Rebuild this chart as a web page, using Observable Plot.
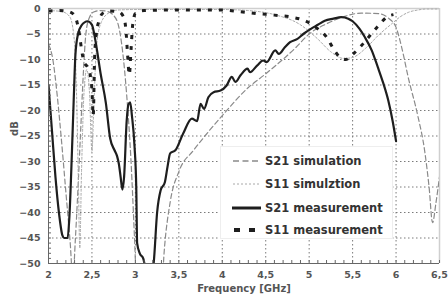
<!DOCTYPE html>
<html>
<head>
<meta charset="utf-8">
<script src="https://cdn.jsdelivr.net/npm/d3@7"></script>
<script src="https://cdn.jsdelivr.net/npm/@observablehq/plot@0.6"></script>
<style>
  html, body { margin: 0; padding: 0; background: #fff; }
  #wrap { position: relative; width: 448px; height: 300px; font-family: "DejaVu Sans", sans-serif; }
  #legend { position: absolute; left: 220px; top: 146px; width: 173px; height: 93px; background: #fff; border: 1px solid #eee; box-sizing: border-box; }
  .row { position: absolute; left: 0; height: 16px; display: flex; align-items: center; }
  .row svg { margin-left: 11px; margin-right: 3px; }
  .row span { font-weight: bold; font-size: 11.5px; color: #333; white-space: nowrap; }
</style>
</head>
<body>
<div id="wrap"></div>
<script>
// ---- data ----
const freqTicks = [2, 2.5, 3, 3.5, 4, 4.5, 5, 5.5, 6, 6.5];
const dbTicks = [0, -5, -10, -15, -20, -25, -30, -35, -40, -45, -50];
const seriesNames = ["S21 simulation", "S11 simulztion", "S21 measurement", "S11 measurement"];

const s21SimF  = [2.0, 2.05, 2.1, 2.15, 2.2, 2.25, 2.28, 2.31, 2.34, 2.37, 2.40, 2.43, 2.47, 2.52, 2.6, 2.68, 2.74, 2.8, 2.85, 2.9, 2.95, 2.99, 3.02, 3.3, 3.33, 3.4, 3.5, 3.67, 3.8, 4.0, 4.3, 4.5, 4.85, 5.0, 5.2, 5.4, 5.6, 5.8, 5.92, 6.0, 6.07, 6.14, 6.25, 6.33, 6.38, 6.42, 6.46, 6.5];
const s21SimDb = [-7, -10, -17, -26, -36, -46, -53, -45, -35, -24, -13, -5, -1.8, -0.7, -0.4, -0.6, -1.2, -3, -8, -17, -30, -45, -56, -56, -48, -38, -32, -27.8, -25, -21, -15.5, -12.8, -7.6, -5, -3, -1.6, -0.9, -1, -2, -3.7, -8, -13.5, -21, -28, -35, -42, -38, -33];

const s11SimF  = [2.0, 2.15, 2.24, 2.29, 2.32, 2.345, 2.36, 2.38, 2.41, 2.44, 2.47, 2.50, 2.52, 2.55, 2.6, 2.7, 2.8, 3.0, 3.5, 4.0, 4.3, 4.6, 4.9, 5.1, 5.25, 5.4, 5.5, 5.65, 5.8, 5.95, 6.05, 6.15, 6.25, 6.35, 6.5];
const s11SimDb = [-0.4, -0.6, -1.5, -5, -15, -35, -47, -32, -16, -12, -16, -28, -20, -8, -3, -0.8, -0.3, -0.2, -0.2, -0.2, -0.4, -1.2, -3.2, -6, -8.5, -9.8, -9.6, -7.8, -5.2, -3, -1.6, -0.7, -0.3, -0.1, -0.1];

const s21MeasF  = [2.0, 2.04, 2.08, 2.12, 2.16, 2.18, 2.22, 2.24, 2.27, 2.29, 2.31, 2.34, 2.38, 2.45, 2.5, 2.54, 2.6, 2.66, 2.71, 2.76, 2.79, 2.81, 2.83, 2.85, 2.87, 2.9, 2.92, 2.94, 2.96, 2.99, 3.01, 3.02, 3.05, 3.09, 3.12, 3.19, 3.21, 3.25, 3.29, 3.34, 3.37, 3.40, 3.46, 3.55, 3.65, 3.71, 3.75, 3.79, 3.84, 3.90, 3.98, 4.05, 4.11, 4.15, 4.21, 4.29, 4.32, 4.40, 4.47, 4.51, 4.61, 4.65, 4.72, 4.78, 4.86, 4.94, 5.02, 5.1, 5.18, 5.28, 5.37, 5.45, 5.5, 5.58, 5.64, 5.72, 5.79, 5.85, 5.91, 5.96, 6.0];
const s21MeasDb = [-15, -24, -33, -40, -44.5, -45, -45, -41, -28, -18, -9, -5, -3.3, -2.5, -3.2, -6.3, -12.8, -18.5, -25.5, -27.8, -29, -30.5, -33, -35.5, -33, -22, -18.8, -18.4, -21, -27, -35, -46, -48, -49, -51, -52, -50, -40, -35.7, -34, -31, -28.4, -27.8, -24.5, -21.6, -22.1, -18.7, -19.7, -17.4, -16.4, -16.1, -15.1, -13.4, -14.4, -13.1, -11.8, -12.5, -11.2, -10.2, -10.5, -8.2, -8.9, -7.6, -6.6, -6.0, -4.9, -4.0, -3.2, -2.4, -2.0, -1.7, -2.0, -2.5, -4, -5.6, -8.2, -11.5, -14.5, -18, -22, -26];

const s11MeasF  = [2.0, 2.1, 2.2, 2.28, 2.33, 2.36, 2.38, 2.41, 2.45, 2.48, 2.50, 2.515, 2.53, 2.55, 2.58, 2.62, 2.7, 2.8, 2.86, 2.89, 2.91, 2.93, 2.95, 2.97, 3.0, 3.1, 3.5, 4.0, 4.2, 4.4, 4.6, 4.8, 4.95, 5.1, 5.2, 5.28, 5.35, 5.42, 5.5, 5.6, 5.7, 5.8, 5.9, 5.97];
const s11MeasDb = [-0.5, -0.4, -0.5, -1, -2.8, -5.5, -8, -10.5, -11.5, -13, -16, -21, -10, -5, -2.5, -1, -0.5, -0.6, -1.5, -4, -9, -13, -8, -3, -1, -0.4, -0.3, -0.3, -0.6, -1, -1.3, -1.7, -2.4, -4, -5.6, -7.9, -9.5, -10, -9, -7.3, -5.3, -3.3, -1.6, -1.2];

// ---- build tables ----
const rows = (fs, ds) => fs.map((f, i) => ({f, db: ds[i]}));
const s21Sim = rows(s21SimF, s21SimDb);
const s11Sim = rows(s11SimF, s11SimDb);
const s21Meas = rows(s21MeasF, s21MeasDb);
const s11Meas = rows(s11MeasF, s11MeasDb);

const minorX = d3.range(20, 66).map(v => v / 10);
const minorY = d3.range(-50, 1);

const styles = [
  {stroke: "#8a8a8a", strokeWidth: 1.2, strokeDasharray: "5,3"},
  {stroke: "#a8a8a8", strokeWidth: 1, strokeDasharray: "2,2"},
  {stroke: "#1e1e1e", strokeWidth: 2.2},
  {stroke: "#1e1e1e", strokeWidth: 3, strokeDasharray: "4,7"}
];

const chart = Plot.plot({
  width: 448,
  height: 300,
  marginLeft: 48,
  marginRight: 9,
  marginTop: 8,
  marginBottom: 37,
  style: {fontFamily: "DejaVu Sans", fontSize: "9px", fontWeight: "bold", color: "#555", background: "#fff"},
  x: {domain: [2, 6.5], label: null},
  y: {domain: [-50, 0], label: null},
  marks: [
    Plot.gridX(freqTicks, {stroke: "#7a7a7a", strokeOpacity: 1, strokeDasharray: "1.5,2.5"}),
    Plot.gridY(dbTicks, {stroke: "#7a7a7a", strokeOpacity: 1, strokeDasharray: "1.5,2.5"}),
    Plot.ruleY([0], {stroke: "#cfcfcf", strokeWidth: 1.5}),
    Plot.ruleX([6.5], {stroke: "#cfcfcf", strokeWidth: 1.5}),
    Plot.line(s21Sim, {x: "f", y: "db", curve: "monotone-x", clip: true, ...styles[0]}),
    Plot.line(s11Sim, {x: "f", y: "db", curve: "monotone-x", clip: true, ...styles[1]}),
    Plot.line(s21Meas, {x: "f", y: "db", curve: "monotone-x", clip: true, ...styles[2]}),
    Plot.line(s11Meas, {x: "f", y: "db", curve: "monotone-x", clip: true, ...styles[3], strokeLinecap: "butt"}),
    Plot.ruleX([2], {stroke: "#666", strokeWidth: 1}),
    Plot.ruleY([-50], {stroke: "#666", strokeWidth: 1}),
    Plot.axisX(minorX, {tickSize: 3, dy: -3, tickFormat: () => "", stroke: "#666"}),
    Plot.axisY(minorY, {tickSize: 3, dx: 3, tickFormat: () => "", stroke: "#666"}),
    Plot.axisX(freqTicks, {tickSize: 0, tickPadding: 8, fontSize: 9.5, fontWeight: "bold", fill: "#555",
      tickFormat: d => String(d).replace(".", ","), label: null}),
    Plot.axisY(dbTicks, {tickSize: 0, tickPadding: 8, fontSize: 9.5, fontWeight: "bold", fill: "#555", label: null}),
    Plot.text(["Frequency [GHz]"], {frameAnchor: "bottom", dy: 28, fontSize: 10, fontWeight: "bold", fill: "#555"}),
    Plot.text(["dB"], {frameAnchor: "left", dx: -34, rotate: -90, fontSize: 10, fontWeight: "bold", fill: "#555"})
  ]
});

const wrap = document.getElementById("wrap");
wrap.appendChild(chart);

// ---- legend ----
const legend = document.createElement("div");
legend.id = "legend";
const rowTops = [6, 29, 53, 75];
const swatches = [
  `<line x1="1" x2="29" y1="5" y2="5" stroke="#8a8a8a" stroke-width="1.3" stroke-dasharray="6,3.5"/>`,
  `<line x1="1" x2="29" y1="5" y2="5" stroke="#a8a8a8" stroke-width="1" stroke-dasharray="2,2"/>`,
  `<line x1="0" x2="29" y1="5" y2="5" stroke="#1e1e1e" stroke-width="3"/>`,
  `<line x1="2" x2="29" y1="5" y2="5" stroke="#1e1e1e" stroke-width="4" stroke-dasharray="6,9"/>`
];
seriesNames.forEach((name, i) => {
  const r = document.createElement("div");
  r.className = "row";
  r.style.top = rowTops[i] + "px";
  r.innerHTML = `<svg width="30" height="10">${swatches[i]}</svg><span>${name}</span>`;
  legend.appendChild(r);
});
wrap.appendChild(legend);
</script>
</body>
</html>
